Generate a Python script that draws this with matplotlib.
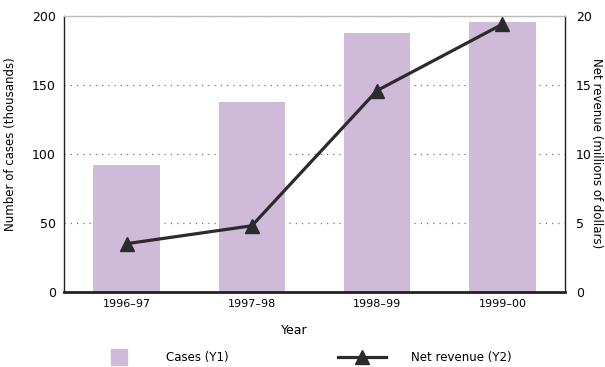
import matplotlib
matplotlib.use("Agg")
import matplotlib.pyplot as plt
from matplotlib.patches import Rectangle
from matplotlib.lines import Line2D

years = ["1996\u201397", "1997\u201398", "1998\u201399", "1999\u201300"]
cases = [92, 138, 188, 196]          # thousands
revenue = [3.5, 4.8, 14.6, 19.4]     # millions of dollars

bar_color = "#cfbad9"
line_color = "#2b2b2b"

plt.rcParams["font.family"] = "DejaVu Sans"
plt.rcParams["font.size"] = 9

W, H = 605.0, 367.0
fig = plt.figure(figsize=(6.05, 3.67), dpi=100)
ax = fig.add_axes([0.1058, 0.2044, 0.828, 0.752])
x = list(range(len(years)))

ax.bar(x, cases, width=0.53, color=bar_color, zorder=2)
ax.set_xlim(-0.5, 3.5)
ax.set_ylim(0, 200)
ax.set_yticks([0, 50, 100, 150, 200])
ax.set_xticks(x)
ax.set_xticklabels(years, fontsize=8)
ax.tick_params(length=0, pad=6)
ax.tick_params(axis="x", pad=5)
ax.yaxis.grid(True, linestyle=(0, (1, 4)), color="#777777", linewidth=0.9, zorder=1)
ax.set_axisbelow(True)
ax.set_xlabel("Year", labelpad=8)
ax.xaxis.set_label_coords(0.46, -0.115)

for side in ("left", "right"):
    ax.spines[side].set_color("#222222")
    ax.spines[side].set_linewidth(1.0)
ax.spines["top"].set_color("#bbbbbb")
ax.spines["top"].set_linewidth(1.0)
ax.spines["bottom"].set_color("#222222")
ax.spines["bottom"].set_linewidth(2.0)

ax2 = ax.twinx()
ax2.plot(x, revenue, color=line_color, linewidth=2.3, marker="^",
         markersize=10, markerfacecolor=line_color, markeredgecolor=line_color,
         zorder=3)
ax2.set_ylim(0, 20)
ax2.set_yticks([0, 5, 10, 15, 20])
ax2.tick_params(length=0, pad=8)
for s in ax2.spines.values():
    s.set_visible(False)

# Axis titles placed in figure coordinates
fig.text(11 / W, 1 - 144 / H, "Number of cases (thousands)", rotation=90,
         ha="center", va="center", fontsize=8.5)
fig.text(597 / W, 1 - 153 / H, "Net revenue (millions of dollars)", rotation=-90,
         ha="center", va="center", fontsize=8.5)

# Legend drawn in figure coordinates
fig.add_artist(Rectangle((111 / W, 1 - 365 / H), 16 / W, 16 / H,
                         transform=fig.transFigure, color=bar_color))
fig.text(166 / W, 1 - 357 / H, "Cases (Y1)", va="center", ha="left", fontsize=8.5)
fig.add_artist(Line2D([338 / W, 386 / W], [1 - 357 / H, 1 - 357 / H],
                      transform=fig.transFigure, color=line_color, linewidth=2.3))
fig.add_artist(Line2D([362 / W], [1 - 357 / H], transform=fig.transFigure,
                      marker="^", markersize=10, color=line_color))
fig.text(411 / W, 1 - 357 / H, "Net revenue (Y2)", va="center", ha="left", fontsize=8.5)

fig.savefig("out.png", dpi=100)
